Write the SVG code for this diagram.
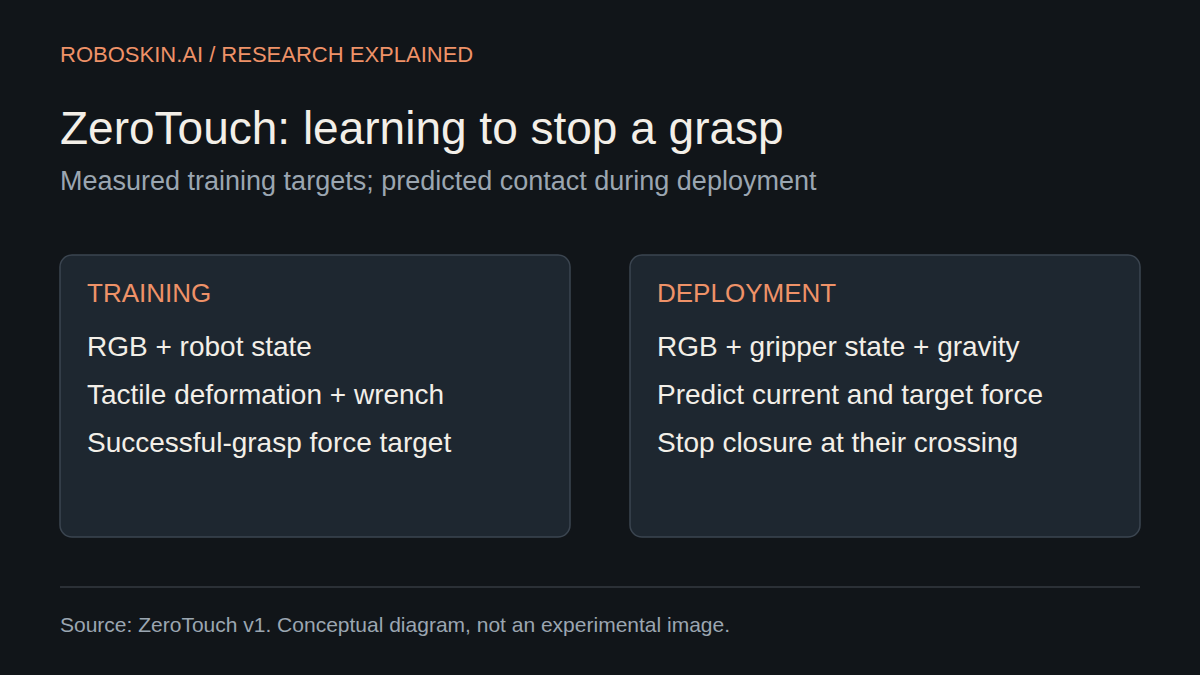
<svg xmlns="http://www.w3.org/2000/svg" width="1200" height="675" viewBox="0 0 1200 675">
<style>
text{font-family:"Liberation Sans",Arial,sans-serif}
.kicker{font-size:22px;fill:#ef9268}
.title{font-size:46px;fill:#f3efe8}
.sub{font-size:27px;fill:#9ba6b1}
.card{fill:#1e2730;stroke:#3b4550;stroke-width:1.5}
.head{font-size:26px;fill:#ef9268}
.item{font-size:28px;fill:#f3efe8}
.foot{font-size:21px;fill:#9ba6b1}
</style>
<rect width="1200" height="675" fill="#111519"/>
<text class="kicker" x="60" y="62">ROBOSKIN.AI / RESEARCH EXPLAINED</text>
<text class="title" x="60" y="144">ZeroTouch: learning to stop a grasp</text>
<text class="sub" x="60" y="190">Measured training targets; predicted contact during deployment</text>
<g id="training">
<rect class="card" x="60" y="255" width="510" height="282" rx="12"/>
<text class="head" x="87" y="302">TRAINING</text>
<text class="item" x="87" y="356">RGB + robot state</text>
<text class="item" x="87" y="404">Tactile deformation + wrench</text>
<text class="item" x="87" y="452">Successful-grasp force target</text>
</g>
<g id="deployment">
<rect class="card" x="630" y="255" width="510" height="282" rx="12"/>
<text class="head" x="657" y="302">DEPLOYMENT</text>
<text class="item" x="657" y="356">RGB + gripper state + gravity</text>
<text class="item" x="657" y="404">Predict current and target force</text>
<text class="item" x="657" y="452">Stop closure at their crossing</text>
</g>
<g id="connectors"></g>
<line x1="60" y1="587" x2="1140" y2="587" stroke="#343a41" stroke-width="1.5"/>
<text class="foot" x="60" y="632">Source: ZeroTouch v1. Conceptual diagram, not an experimental image.</text>
</svg>
